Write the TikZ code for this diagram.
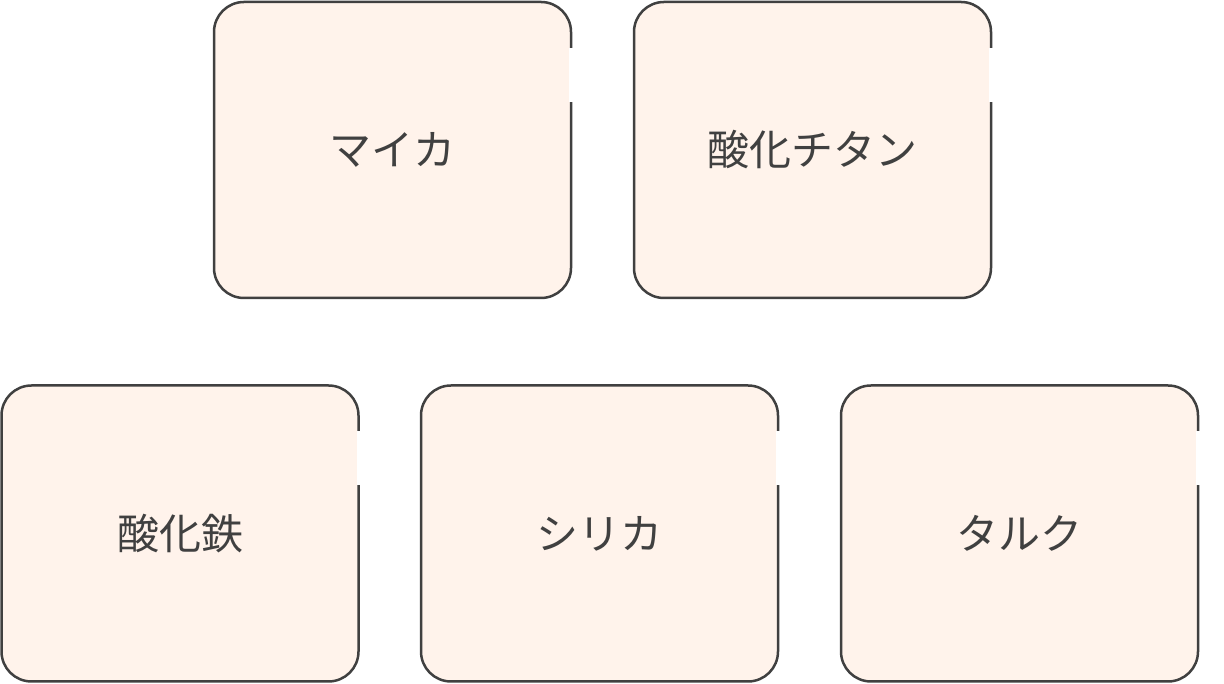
\documentclass[tikz,border=0pt]{standalone}
\usepackage{fontspec}
\setmainfont{Noto Sans CJK JP}
\usepackage{tikz}
\usetikzlibrary{positioning}
\definecolor{BoxFill}{HTML}{FFF3EB}
\definecolor{BoxLine}{HTML}{404040}

\begin{document}
\begin{tikzpicture}[x=1pt, y=1pt,
    mineral/.style={draw=BoxLine, fill=BoxFill, line width=2.5pt, rounded corners=30pt,
      minimum width=357pt, minimum height=296pt, inner sep=0pt,
      text=BoxLine, font=\fontsize{42}{50}\selectfont}]
  \useasboundingbox (0,0) rectangle (1224,684);

  % Top row
  \node[mineral] (mica) at (392.5, 534) {マイカ};
  \node[mineral] (titania) at (812.5, 534) {酸化チタン};

  % Bottom row
  \node[mineral] (ironoxide) at (180, 150.5) {酸化鉄};
  \node[mineral] (silica) at (599.5, 150.5) {シリカ};
  \node[mineral] (talc) at (1019.5, 150.5) {タルク};

  % Gaps in the right borders
  \foreach \b in {mica, titania, ironoxide, silica, talc}
    \fill[white] ([xshift=-3pt, yshift=-47pt]\b.north east) rectangle ([xshift=3pt, yshift=-101pt]\b.north east);
\end{tikzpicture}
\end{document}
